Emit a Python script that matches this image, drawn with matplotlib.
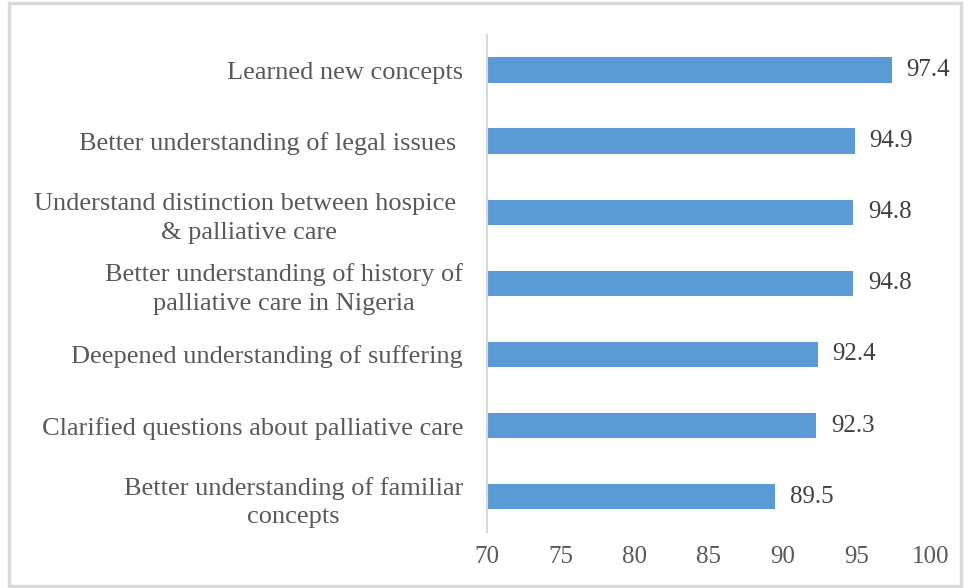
import matplotlib.pyplot as plt

plt.rcParams['font.family'] = ['Liberation Serif', 'DejaVu Serif']

labels = [
    "Better understanding of familiar\nconcepts",
    "Clarified questions about palliative care",
    "Deepened understanding of suffering",
    "Better understanding of history of\npalliative care in Nigeria",
    "Understand distinction between hospice \n& palliative care",
    "Better understanding of legal issues ",
    "Learned new concepts",
]
values = [89.5, 92.3, 92.4, 94.8, 94.8, 94.9, 97.4]
xticks = [70, 75, 80, 85, 90, 95, 100]

fig = plt.figure(figsize=(9.64, 5.88), dpi=100)
ax = fig.add_axes([0.505, 0.095, 0.46, 0.846])

ypos = range(len(values))
ax.barh(ypos, [v - 70 for v in values], left=70, height=0.36, color='#5b9bd5')

for y, v in zip(ypos, values):
    ax.text(v + 1.0, y, f"{v:.1f}", va='center', ha='left', fontsize=18, color='#404040')

ax.set_xlim(70, 100)
ax.set_ylim(-0.5, len(values) - 0.5)
ax.set_xticks(xticks)
ax.set_yticks(list(ypos))
ax.set_yticklabels(labels, multialignment='center', fontsize=19, linespacing=1.4)
ax.tick_params(axis='both', length=0)
ax.tick_params(axis='x', labelsize=18, pad=10, labelcolor='#595959')
ax.tick_params(axis='y', pad=17, labelcolor='#595959')

for s in ['top', 'right', 'bottom']:
    ax.spines[s].set_visible(False)
ax.spines['left'].set_color('#d9d9d9')
ax.spines['left'].set_linewidth(1.5)

# outer frame
fig.patches.append(plt.Rectangle((9 / 964, 2 / 588), 952 / 964, 583 / 588,
                                 transform=fig.transFigure, fill=False,
                                 edgecolor='#d9d9d9', linewidth=2.5))

fig.savefig('out.png', dpi=100)
